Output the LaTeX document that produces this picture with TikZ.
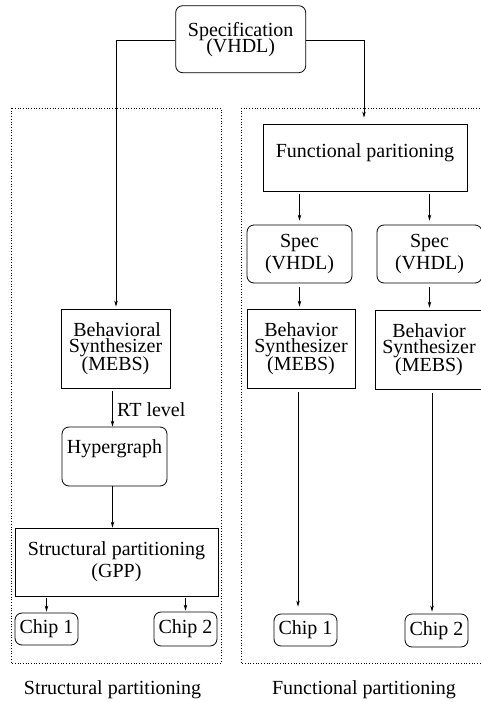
\documentclass[tikz,border=0pt]{standalone}
\usepackage{fontspec}
\setmainfont{Liberation Serif}
\usetikzlibrary{arrows.meta,calc}
\begin{document}
\begin{tikzpicture}[x=1pt,y=-1pt,
  every node/.style={font=\fontsize{20}{17}\selectfont, inner sep=0pt, align=center},
  sq/.style={draw, line width=0.8pt, minimum width=#1},
  rbox/.style={draw, line width=0.8pt, rounded corners=7pt},
  frame/.style={draw, dotted, line width=0.7pt},
  arr/.style={line width=0.7pt, -{Stealth[length=6pt,width=3.5pt]}},
  ln/.style={line width=0.7pt}]
\useasboundingbox (0,0) rectangle (481,702);
% frames
\draw[frame] (11,108) rectangle (221,663);
\draw[frame] (241,108) rectangle (495,663);
% top
\node[rbox, minimum width=130pt, minimum height=67pt] (spec) at (240.7,39.2) {Specification\\[-3pt](VHDL)};
% left column
\node[draw, line width=0.8pt, minimum width=109pt, minimum height=79pt] (bl) at (115.5,348.5) {\,Behavioral\\[-1pt]Synthesizer\\[-1pt](MEBS)};
\node[rbox, minimum width=105pt, minimum height=59pt] (hyp) at (114.5,456.5) {};
\node (hypt) at ([yshift=8pt]hyp.center) {Hypergraph};
\node[draw, line width=0.8pt, minimum width=203pt, minimum height=68pt] (sp) at (116.5,562) {Structural partitioning\\[3pt](GPP)};
\node[rbox, minimum width=63pt, minimum height=32pt] (c1l) at (46.5,629) {Chip 1};
\node[rbox, minimum width=63pt, minimum height=34pt] (c2l) at (185.5,629) {Chip 2};
% right column
\node[draw, line width=0.8pt, minimum width=204pt, minimum height=67pt] (fp) at (365,157.5) {};
\node (fpt) at ([yshift=5pt]fp.center) {Functional paritioning};
\node[rbox, minimum width=105pt, minimum height=58pt] (sl) at (299.5,254) {Spec\\[2pt](VHDL)};
\node[rbox, minimum width=105pt, minimum height=58pt] (sr) at (429.5,254) {Spec\\[2pt](VHDL)};
\node[draw, line width=0.8pt, minimum width=108pt, minimum height=79pt] (bhl) at (301,348.5) {Behavior\\[-1pt]Synthesizer\\[-1pt](MEBS)};
\node[draw, line width=0.8pt, minimum width=108pt, minimum height=79pt] (bhr) at (429,349.5) {Behavior\\[-1pt]Synthesizer\\[-1pt](MEBS)};
\node[rbox, minimum width=63pt, minimum height=32pt] (c1r) at (305.5,630) {Chip 1};
\node[rbox, minimum width=63pt, minimum height=33pt] (c2r) at (436.5,630.5) {Chip 2};
% captions
\node (capl) at (112.5,690) {Structural partitioning};
\node (capr) at (364,690) {Functional partitioning};
% connectors
\coordinate (kl) at (116,40);
\coordinate (kr) at (364,40);
\draw[arr] (spec.west |- kl) -- (kl) -- ([yshift=2pt]kl |- bl.north);
\draw[arr] (spec.east |- kr) -- (kr) -- ([yshift=6pt]kr |- fp.north);
\draw[arr] ([xshift=-3pt,yshift=-3pt]bl.south) -- ([xshift=-3pt]bl.south |- hyp.north);
\node[anchor=west] (rt) at (117,410) {RT level};
\draw[arr] ([xshift=-2pt]hyp.south) -- ([xshift=-2pt]hyp.south |- sp.north);
\draw[arr] ([yshift=-2pt]sp.south -| c1l.north) -- ([yshift=1pt]c1l.north);
\draw[arr] ([yshift=-2pt]sp.south -| c2l.north) -- ([yshift=1pt]c2l.north);
\draw[arr] ([yshift=-3pt]fp.south -| sl.north) -- ([yshift=4pt]sl.north);
\draw[arr] ([yshift=-3pt]fp.south -| sr.north) -- ([yshift=4pt]sr.north);
\draw[arr] ([yshift=-4pt]sl.south) -- ([yshift=2pt]sl.south |- bhl.north);
\draw[arr] ([yshift=-4pt]sr.south) -- ([yshift=2pt]sr.south |- bhr.north);
\draw[arr] ([xshift=-3pt,yshift=-4pt]bhl.south) -- ([xshift=-3pt,yshift=7pt]bhl.south |- c1r.north);
\draw[arr] ([xshift=3pt,yshift=-4pt]bhr.south) -- ([xshift=3pt,yshift=2pt]bhr.south |- c2r.north);
\end{tikzpicture}
\end{document}
